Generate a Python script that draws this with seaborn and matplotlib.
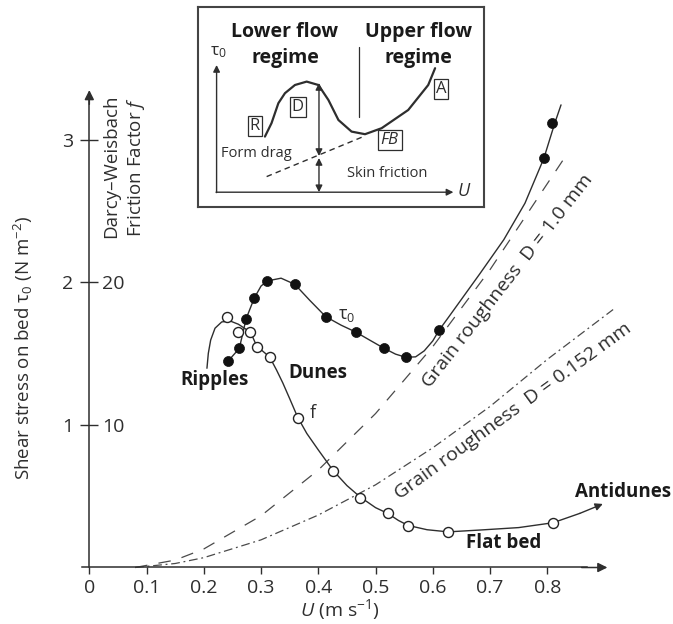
import matplotlib
matplotlib.use('Agg')
import matplotlib.pyplot as plt
import seaborn as sns
import pandas as pd

# ================= style =================
sns.set_theme(style='white')
plt.rcParams['font.family'] = ['Open Sans', 'DejaVu Sans']
plt.rcParams['mathtext.fontset'] = 'custom'
plt.rcParams['mathtext.rm'] = 'Open Sans'
plt.rcParams['mathtext.it'] = 'Open Sans:italic'
plt.rcParams['mathtext.bf'] = 'Open Sans:bold'

ink = '#2e2e2e'

# ================= data =================
# measured bed shear stress tau0 (N m-2), filled circles
tau_u = [0.243, 0.262, 0.274, 0.288, 0.311, 0.359, 0.413, 0.465, 0.514, 0.553, 0.611, 0.794, 0.809]
tau_v = [1.451, 1.537, 1.746, 1.889, 2.011, 1.987, 1.760, 1.653, 1.540, 1.475, 1.665, 2.871, 3.117]

# hand-drawn tau0 curve
tau_curve_u = [0.243, 0.262, 0.274, 0.288, 0.300, 0.311, 0.335, 0.359, 0.385, 0.413, 0.440, 0.465,
               0.490, 0.514, 0.535, 0.553, 0.570, 0.585, 0.600, 0.611, 0.630, 0.682, 0.724, 0.761,
               0.794, 0.813, 0.824]
tau_curve_v = [1.451, 1.537, 1.746, 1.889, 1.975, 2.011, 2.030, 1.987, 1.875, 1.760, 1.700, 1.653,
               1.595, 1.540, 1.497, 1.475, 1.478, 1.520, 1.590, 1.665, 1.770, 2.060, 2.300, 2.556,
               2.871, 3.117, 3.246]

# Darcy-Weisbach friction factor f, open circles
f_u = [0.241, 0.259, 0.281, 0.293, 0.316, 0.365, 0.426, 0.473, 0.521, 0.557, 0.627, 0.810]
f_v = [17.6, 16.5, 16.5, 15.5, 14.8, 10.5, 6.8, 4.9, 3.8, 2.9, 2.5, 3.1]

# hand-drawn f curve (last point = arrow tip)
f_curve_u = [0.2055, 0.2079, 0.212, 0.2196, 0.2313, 0.2458, 0.2603, 0.2737, 0.2837, 0.2924, 0.315,
             0.327, 0.338, 0.350, 0.364, 0.380, 0.400, 0.426, 0.450, 0.473, 0.500, 0.521, 0.540,
             0.557, 0.590, 0.627, 0.683, 0.750, 0.810, 0.857, 0.897]
f_curve_v = [13.98, 15.03, 15.96, 16.79, 17.23, 17.30, 17.07, 16.72, 16.32, 15.54, 14.77,
             13.86, 12.95, 11.85, 10.54, 9.40, 8.25, 6.80, 5.75, 4.95, 4.20, 3.80, 3.30,
             2.95, 2.65, 2.50, 2.63, 2.80, 3.14, 3.80, 4.46]

# grain roughness curves
d10_u = [0.080, 0.150, 0.200, 0.300, 0.400, 0.500, 0.600, 0.700, 0.831]
d10_v = [0.000, 0.052, 0.130, 0.363, 0.684, 1.080, 1.550, 2.090, 2.880]
d0152_u = [0.080, 0.150, 0.200, 0.300, 0.400, 0.500, 0.600, 0.700, 0.800, 0.915]
d0152_v = [0.000, 0.028, 0.069, 0.194, 0.368, 0.580, 0.840, 1.130, 1.460, 1.810]

x_ticks = [0, 0.1, 0.2, 0.3, 0.4, 0.5, 0.6, 0.7, 0.8]
x_ticklabels = ['0', '0.1', '0.2', '0.3', '0.4', '0.5', '0.6', '0.7', '0.8']
y_ticks = [1, 2, 3]
y_ticklabels = ['1', '2', '3']
f_ticks = [10, 20]
f_ticklabels = ['10', '20']

# inset schematic (inset frame units 0-1)
ins_u = [0.234, 0.257, 0.281, 0.304, 0.339, 0.380, 0.421, 0.456, 0.491, 0.537, 0.584, 0.642,
         0.735, 0.805, 0.829]
ins_v = [0.352, 0.419, 0.519, 0.569, 0.610, 0.627, 0.610, 0.535, 0.435, 0.377, 0.364, 0.394,
         0.485, 0.610, 0.694]
ins_skin_u = [0.240, 0.578]
ins_skin_v = [0.152, 0.352]

# ================= figure =================
fig = plt.figure(figsize=(6.73, 6.24), dpi=100)
fig.patch.set_facecolor('white')
ax = fig.add_axes([0, 0, 1, 1])
ax.set_xlim(-0.156, 1.0196)
ax.set_ylim(-0.3965, 3.982)
ax.set_facecolor('white')

# grain roughness lines
sns.lineplot(x=d10_u, y=d10_v, ax=ax, color='#4a4a4a', lw=0.9, sort=False)
ax.get_lines()[-1].set_dashes((10, 9))
sns.lineplot(x=d0152_u, y=d0152_v, ax=ax, color='#4a4a4a', lw=0.9, sort=False)
ax.get_lines()[-1].set_dashes((7, 3, 1.5, 3))

# tau0 curve + points
sns.lineplot(x=tau_curve_u, y=tau_curve_v, ax=ax, color=ink, lw=1.0, sort=False)
sns.scatterplot(x=tau_u, y=tau_v, ax=ax, s=52, color='#111111', edgecolor='#111111',
                linewidth=0.5, zorder=5)

# f curve + points (plotted on the tau scale, 10 f-units = 1 N m-2)
f_curve_plot = pd.DataFrame({'u': f_curve_u, 'v': [v / 10 for v in f_curve_v]})
sns.lineplot(data=f_curve_plot.iloc[:-1], x='u', y='v', ax=ax, color=ink, lw=1.0, sort=False)
ax.annotate('', xy=(f_curve_plot.u.iloc[-1], f_curve_plot.v.iloc[-1]),
            xytext=(f_curve_plot.u.iloc[-2], f_curve_plot.v.iloc[-2]),
            arrowprops=dict(arrowstyle='-|>', color=ink, lw=1.0, mutation_scale=11,
                            shrinkA=0, shrinkB=0))
sns.scatterplot(x=f_u, y=[v / 10 for v in f_v], ax=ax, s=52, color='white', edgecolor='#222222',
                linewidth=1.0, zorder=6)

# ================= axes =================
for side in ['top', 'right']:
    ax.spines[side].set_visible(False)
for side in ['left', 'bottom']:
    ax.spines[side].set_color(ink)
    ax.spines[side].set_linewidth(1.1)
ax.spines['left'].set_position(('data', 0))
ax.spines['bottom'].set_position(('data', 0))
ax.spines['left'].set_bounds(0, 3.28)
ax.spines['bottom'].set_bounds(-0.012, 0.87)
ax.annotate('', xy=(0.905, 0), xytext=(0.86, 0),
            arrowprops=dict(arrowstyle='-|>', color=ink, lw=1.1, mutation_scale=14, shrinkA=0, shrinkB=0))
ax.annotate('', xy=(0, 3.35), xytext=(0, 3.25),
            arrowprops=dict(arrowstyle='-|>', color=ink, lw=1.1, mutation_scale=14, shrinkA=0, shrinkB=0))

ax.set_xticks(x_ticks)
ax.set_xticklabels(x_ticklabels)
ax.set_yticks(y_ticks)
ax.set_yticklabels(y_ticklabels)
ax.tick_params(axis='x', bottom=True, direction='out', length=5, width=1, color=ink,
               labelsize=14, labelcolor=ink, pad=3)
ax.tick_params(axis='y', left=True, direction='inout', length=13, width=1, color=ink,
               labelsize=14, labelcolor=ink, pad=5)

sec = ax.secondary_yaxis(0, functions=(lambda t: t * 10, lambda f: f / 10), transform=ax.transData)
sec.set_alignment('right')
sec.set_yticks(f_ticks)
sec.set_yticklabels(f_ticklabels)
sec.tick_params(axis='y', length=0, labelsize=14, labelcolor=ink, pad=9)
for s in sec.spines.values():
    s.set_visible(False)

ax.set_xlabel('$\\it{U}$ (m s$^{-1}$)', fontsize=14, color=ink)
ax.xaxis.set_label_coords(0.5048, 0.043)
ax.set_ylabel('Shear stress on bed τ$_0$ (N m$^{-2}$)', fontsize=13.5, color=ink)
ax.yaxis.set_label_coords(0.052, 0.442)
fig.text(0.185, 0.733, 'Darcy–Weisbach\nFriction Factor $\\it{f}$', rotation=90, ha='center',
         va='center', fontsize=13.5, linespacing=1.25, color=ink)

# ================= annotations =================
ax.text(0.449, 1.772, 'τ$_0$', fontsize=13, color=ink, ha='center', va='center')
ax.text(0.391, 1.082, 'f', fontsize=13, color=ink, ha='center', va='center')
ax.text(0.218, 1.316, 'Ripples', fontsize=13.5, fontweight='bold', color='#1a1a1a', ha='center', va='center')
ax.text(0.400, 1.363, 'Dunes', fontsize=13.5, fontweight='bold', color='#1a1a1a', ha='center', va='center')
ax.text(0.724, 0.172, 'Flat bed', fontsize=13.5, fontweight='bold', color='#1a1a1a', ha='center', va='center')
ax.text(0.932, 0.530, 'Antidunes', fontsize=13.5, fontweight='bold', color='#1a1a1a', ha='center', va='center')
ax.text(0.730, 2.010, 'Grain roughness  D = 1.0 mm', fontsize=14, color=ink, rotation=52,
        ha='center', va='center', rotation_mode='anchor')
ax.text(0.740, 1.095, 'Grain roughness  D = 0.152 mm', fontsize=14, color=ink, rotation=36,
        ha='center', va='center', rotation_mode='anchor')

# ================= inset =================
ins = fig.add_axes([198 / 673, 1 - 207 / 624, 286 / 673, 200 / 624])
ins.set_xlim(0, 1)
ins.set_ylim(0, 1)
ins.set_xticks([])
ins.set_yticks([])
ins.set_facecolor('white')
for s in ins.spines.values():
    s.set_color('#444444')
    s.set_linewidth(1.5)

sns.lineplot(x=ins_u, y=ins_v, ax=ins, color=ink, lw=1.6, sort=False)
sns.lineplot(x=ins_skin_u, y=ins_skin_v, ax=ins, color=ink, lw=1.0, sort=False)
ins.get_lines()[-1].set_dashes((4, 3))

arr = dict(color=ink, lw=1.0, mutation_scale=10, shrinkA=0, shrinkB=0)
ins.annotate('', xy=(0.065, 0.71), xytext=(0.065, 0.072), arrowprops=dict(arrowstyle='-|>', **arr))
ins.annotate('', xy=(0.893, 0.074), xytext=(0.063, 0.074), arrowprops=dict(arrowstyle='-|>', **arr))
ins.annotate('', xy=(0.423, 0.62), xytext=(0.423, 0.255), arrowprops=dict(arrowstyle='<|-|>', **arr))
ins.annotate('', xy=(0.423, 0.245), xytext=(0.423, 0.074), arrowprops=dict(arrowstyle='<|-|>', **arr))
ins.plot([0.563, 0.563], [0.45, 0.80], color=ink, lw=0.9)

ins.text(0.304, 0.812, 'Lower flow\nregime', fontsize=14, fontweight='bold', ha='center', va='center',
         color='#1a1a1a', linespacing=1.4)
ins.text(0.770, 0.812, 'Upper flow\nregime', fontsize=14, fontweight='bold', ha='center', va='center',
         color='#1a1a1a', linespacing=1.4)
ins.text(0.071, 0.777, 'τ$_0$', fontsize=12.5, ha='center', va='center', color=ink)
ins.text(0.930, 0.080, '$\\it{U}$', fontsize=13, ha='center', va='center', color=ink)
box = dict(boxstyle='square,pad=0.12', fc='white', ec=ink, lw=0.9)
ins.text(0.199, 0.405, 'R', fontsize=12, ha='center', va='center', color=ink, bbox=box)
ins.text(0.349, 0.500, 'D', fontsize=12, ha='center', va='center', color=ink, bbox=box)
ins.text(0.850, 0.589, 'A', fontsize=12, ha='center', va='center', color=ink, bbox=box)
ins.text(0.671, 0.335, '$\\it{FB}$', fontsize=12, ha='center', va='center', color=ink, bbox=box)
ins.text(0.205, 0.265, 'Form drag', fontsize=10.5, ha='center', va='center', color=ink)
ins.text(0.663, 0.169, 'Skin friction', fontsize=10.5, ha='center', va='center', color=ink)

fig.savefig('out.png', dpi=100, facecolor='white')
